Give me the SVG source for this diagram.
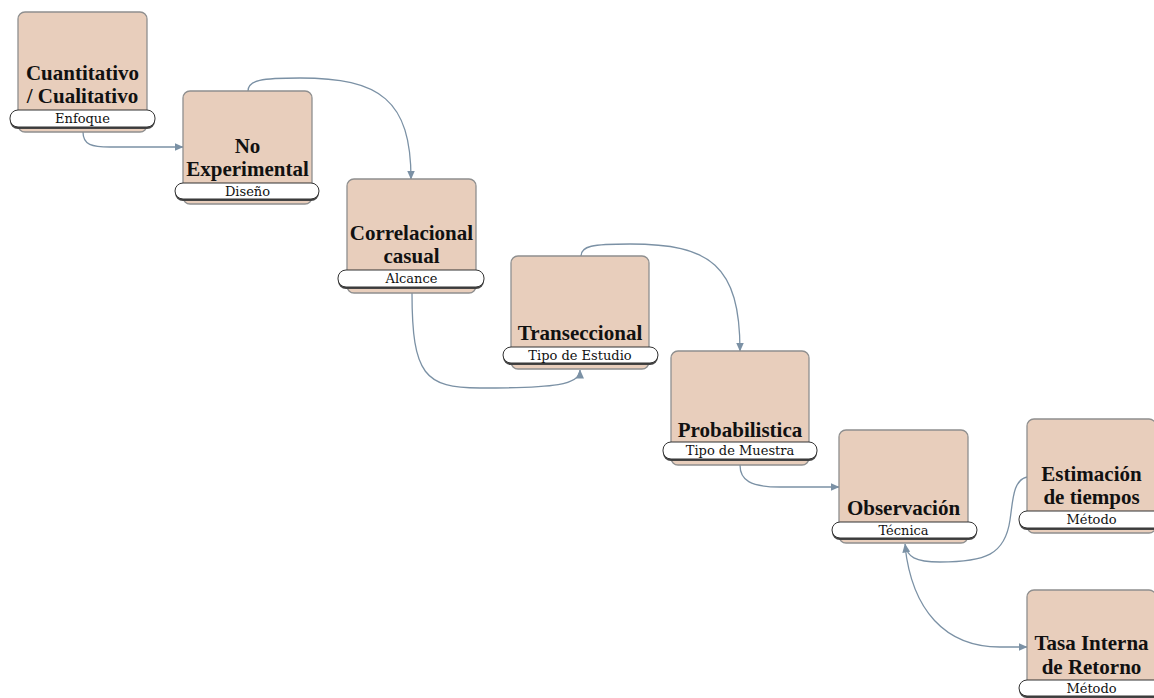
<svg xmlns="http://www.w3.org/2000/svg" width="1154" height="698" viewBox="0 0 1154 698">
<style>
.box{fill:#e8cebc;stroke:#8f8f8f;stroke-width:1.3}
.sh{fill:#444}
.pill{fill:#fff;stroke:#333;stroke-width:1}
.t{font-family:"Liberation Serif",serif;font-weight:bold;font-size:21px;fill:#111;text-anchor:middle}
.l{font-family:"DejaVu Serif",serif;font-size:13px;fill:#111;text-anchor:middle}
.c{fill:none;stroke:#7b91a5;stroke-width:1.3}
</style>
<defs>
<marker id="ah" viewBox="0 0 9 8" refX="8.5" refY="4" markerWidth="9" markerHeight="8" markerUnits="userSpaceOnUse" orient="auto">
<path d="M0,0 L9,4 L0,8 z" fill="#7b91a5"/>
</marker>
</defs>
<rect width="1154" height="698" fill="#fff"/>
<g id="connectors">
<path class="c" marker-end="url(#ah)" d="M83,132 C83,145 92,147 110,147 L183,147"/>
<path class="c" marker-end="url(#ah)" d="M248,91 C248,80 262,78 300,78 C380,78 411,100 411,179"/>
<path class="c" marker-end="url(#ah)" d="M412,293 C412,375 425,388 480,388 C555,388 580,385 580,370"/>
<path class="c" marker-end="url(#ah)" d="M581,256 C581,246 592,244 630,244 C710,244 740,265 740,351"/>
<path class="c" marker-end="url(#ah)" d="M740,465 C740,480 750,487 780,487 L839,487"/>
<path class="c" marker-end="url(#ah)" d="M1027,477 C1013,480 1013,500 1010,520 C1005,555 985,562 940,562 C915,562 907,557 905,544"/>
<path class="c" marker-end="url(#ah)" d="M905,546 C912,610 945,647 1000,647 L1027,647"/>
</g>
<g id="n1">
<rect class="box" x="18" y="12" width="129" height="120" rx="7"/>
<rect class="sh" x="10" y="112" width="145" height="17" rx="8"/>
<rect class="pill" x="10" y="110" width="145" height="17" rx="8"/>
<text class="t" x="82.5" y="80">Cuantitativo</text>
<text class="t" x="82.5" y="103">/ Cualitativo</text>
<text class="l" x="82.5" y="122.5">Enfoque</text>
</g>
<g id="n2">
<rect class="box" x="183" y="91" width="129" height="113" rx="7"/>
<rect class="sh" x="175" y="185" width="144" height="16" rx="8"/>
<rect class="pill" x="175" y="183" width="144" height="16" rx="8"/>
<text class="t" x="247.5" y="153">No</text>
<text class="t" x="247.5" y="176">Experimental</text>
<text class="l" x="247.5" y="195.5">Diseño</text>
</g>
<g id="n3">
<rect class="box" x="347" y="179" width="129" height="114" rx="7"/>
<rect class="sh" x="338" y="272" width="146" height="17" rx="8"/>
<rect class="pill" x="338" y="270" width="146" height="17" rx="8"/>
<text class="t" x="411.5" y="240">Correlacional</text>
<text class="t" x="411.5" y="263">casual</text>
<text class="l" x="411.5" y="282.5">Alcance</text>
</g>
<g id="n4">
<rect class="box" x="511" y="256" width="138" height="113" rx="7"/>
<rect class="sh" x="503" y="349" width="155" height="16" rx="8"/>
<rect class="pill" x="503" y="347" width="155" height="16" rx="8"/>
<text class="t" x="580" y="340">Transeccional</text>
<text class="l" x="580" y="359.5">Tipo de Estudio</text>
</g>
<g id="n5">
<rect class="box" x="671" y="351" width="138" height="114" rx="7"/>
<rect class="sh" x="663" y="444" width="154" height="17" rx="8"/>
<rect class="pill" x="663" y="442" width="154" height="17" rx="8"/>
<text class="t" x="740" y="437">Probabilistica</text>
<text class="l" x="740" y="454.5">Tipo de Muestra</text>
</g>
<g id="n6">
<rect class="box" x="839" y="430" width="129" height="113" rx="7"/>
<rect class="sh" x="832" y="524" width="145" height="16" rx="8"/>
<rect class="pill" x="832" y="522" width="145" height="16" rx="8"/>
<text class="t" x="903.5" y="515">Observación</text>
<text class="l" x="903.5" y="534.5">Técnica</text>
</g>
<g id="n7">
<rect class="box" x="1027" y="419" width="129" height="114" rx="7"/>
<rect class="sh" x="1019" y="513" width="145" height="17" rx="8"/>
<rect class="pill" x="1019" y="511" width="145" height="17" rx="8"/>
<text class="t" x="1091.5" y="481">Estimación</text>
<text class="t" x="1091.5" y="504">de tiempos</text>
<text class="l" x="1091.5" y="523.5">Método</text>
</g>
<g id="n8">
<rect class="box" x="1027" y="590" width="129" height="114" rx="7"/>
<rect class="sh" x="1019" y="682" width="145" height="16" rx="8"/>
<rect class="pill" x="1019" y="680" width="145" height="16" rx="8"/>
<text class="t" x="1091.5" y="650">Tasa Interna</text>
<text class="t" x="1091.5" y="674">de Retorno</text>
<text class="l" x="1091.5" y="692.5">Método</text>
</g>
</svg>
